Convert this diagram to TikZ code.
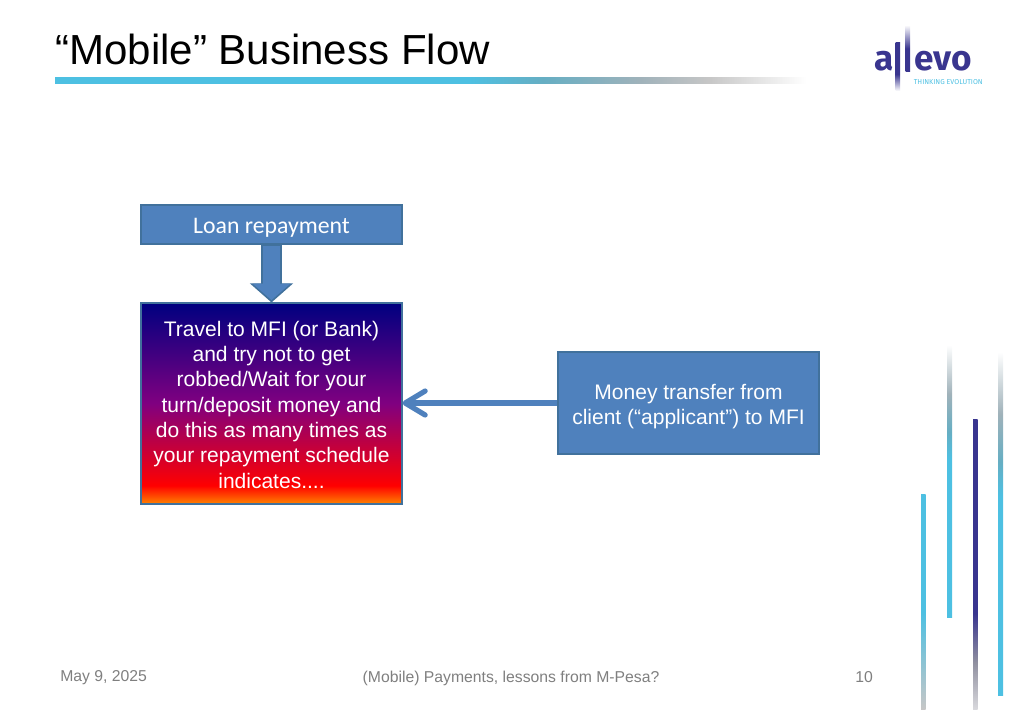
\documentclass[tikz,border=0pt]{standalone}
\usepackage{xcolor}
\usepackage{fontspec}
\setmainfont{Liberation Sans}
\newfontfamily\boxfont{Carlito}
\newfontfamily\logofont{Fira Sans}
\usetikzlibrary{arrows.meta, calc}
\definecolor{boxBlue}{HTML}{4F81BD}
\definecolor{boxEdge}{HTML}{41719C}
\definecolor{ruleCyan}{HTML}{4DC0E2}
\definecolor{ruleTeal}{HTML}{66AEC3}
\definecolor{ruleGray}{HTML}{A0B2BA}
\definecolor{rulePale}{HTML}{C6C6C6}
\definecolor{logoNavy}{HTML}{39358F}
\definecolor{barPale}{HTML}{D8D8DC}
\definecolor{barMauve}{HTML}{9090A0}
\definecolor{footGray}{HTML}{7F7F7F}
\definecolor{fillOrange}{HTML}{FF8000}
\definecolor{fillRed}{HTML}{FF0000}
\definecolor{fillPurple}{HTML}{800080}
\definecolor{fillNavy}{HTML}{000080}
\pgfdeclareverticalshading{travelFill}{100bp}{color(0bp)=(fillOrange); color(25bp)=(fillOrange); color(29.5bp)=(fillRed); color(50bp)=(fillPurple); color(75bp)=(fillNavy); color(100bp)=(fillNavy)}
\pgfdeclarehorizontalshading{titleRule}{100bp}{color(0bp)=(ruleCyan); color(52.5bp)=(ruleCyan); color(57.5bp)=(ruleTeal); color(64bp)=(ruleGray); color(68.5bp)=(rulePale); color(75bp)=(white); color(100bp)=(white)}
\pgfdeclareverticalshading{fadeDownCyan}{100bp}{color(0bp)=(rulePale); color(25bp)=(rulePale); color(47.5bp)=(ruleCyan); color(100bp)=(ruleCyan)}
\pgfdeclareverticalshading{fadeUpCyan}{100bp}{color(0bp)=(ruleCyan); color(54bp)=(ruleCyan); color(59bp)=(ruleTeal); color(66bp)=(ruleGray); color(75bp)=(white); color(100bp)=(white)}
\pgfdeclareverticalshading{fadeDownNavy}{100bp}{color(0bp)=(barPale); color(25bp)=(barPale); color(33bp)=(barMauve); color(41.5bp)=(logoNavy); color(100bp)=(logoNavy)}
\pgfdeclareverticalshading{logoBarDown}{100bp}{color(0bp)=(white); color(25bp)=(white); color(42.5bp)=(logoNavy); color(100bp)=(logoNavy)}
\pgfdeclareverticalshading{logoBarUp}{100bp}{color(0bp)=(logoNavy); color(50bp)=(logoNavy); color(75bp)=(white); color(100bp)=(white)}
\begin{document}
\begin{tikzpicture}[x=0.025cm, y=-0.025cm,
    flowbox/.style={draw=boxEdge, line width=0.05cm, fill=boxBlue, text=white, align=center, inner sep=0pt},
    footer/.style={text=footGray, font=\fontsize{11.2}{13}\selectfont},
    every node/.style={font=\fontsize{14.95}{18}\selectfont}]
  \useasboundingbox (0,0) rectangle (1024,709);
  % slide head
  \node[anchor=west, font=\fontsize{29.9}{34}\selectfont, inner sep=0pt] (title) at (55,49.5) {“Mobile” Business Flow};
  \shade[shading=titleRule] (55,78) rectangle (806,84);
  % logo
  \node[anchor=base west, text=logoNavy, inner sep=0pt, font=\logofont\fontsize{25}{28}\selectfont\bfseries] (logoA) at (874,71) {a};
  \node[anchor=base west, text=logoNavy, inner sep=0pt, font=\logofont\fontsize{25}{28}\selectfont\bfseries] (logoB) at (914,71) {evo};
  \shade[shading=logoBarDown] (895.5,43) rectangle (900,91);
  \shade[shading=logoBarUp] (905.5,25) rectangle (910,72);
  \node[anchor=west, text=ruleCyan, inner sep=0pt, font=\logofont\fontsize{5.04}{6}\selectfont] (logoC) at (913.5,82) {THINKING EVOLUTION};
  % side bars
  \shade[shading=fadeDownCyan] (921,494) rectangle (925.5,709);
  \shade[shading=fadeUpCyan] (947,345) rectangle (952,617);
  \shade[shading=fadeDownNavy] (973,419) rectangle (977.5,709);
  \shade[shading=fadeUpCyan] (998,352) rectangle (1003,695);
  % boxes
  \node[flowbox, minimum width=6.5cm, minimum height=0.975cm, font=\boxfont\fontsize{16.9}{19}\selectfont] (loan) at (271.5,224.5) {\rule{0pt}{15pt}Loan repayment};
  \node[flowbox, shading=travelFill, minimum width=6.5cm, minimum height=5cm] (travel) at (271.5,403.5) {\rule{0pt}{12.5pt}Travel to MFI (or Bank)\\and try not to get\\robbed/Wait for your\\turn/deposit money and\\do this as many times as\\your repayment schedule\\indicates....};
  \node[flowbox, minimum width=6.5cm, minimum height=2.55cm] (money) at (688.5,403) {\rule{0pt}{16pt}Money transfer from\\client (“applicant”) to MFI};
  % connectors
  \draw[line width=0.525cm, boxEdge, -{Triangle[length=0.475cm, width=1.05cm]}] (loan.south) -- (travel.north);
  \draw[line width=0.44cm, boxBlue, shorten >=0.06cm, shorten <=0.03cm, -{Triangle[length=0.41cm, width=0.92cm]}] (loan.south) -- (travel.north);
  \draw[line width=0.13cm, boxBlue, -{Straight Barb[length=0.5cm, width=0.6cm, round]}] (money.west) -- (money.west -| travel.east);
  % footer
  \node[footer, anchor=west, inner sep=0pt] (date) at (60,678) {May 9, 2025};
  \node[footer, inner sep=0pt] (talk) at (511,678) {(Mobile) Payments, lessons from M-Pesa?};
  \node[footer, inner sep=0pt] (page) at (864,677) {10};
\end{tikzpicture}
\end{document}
